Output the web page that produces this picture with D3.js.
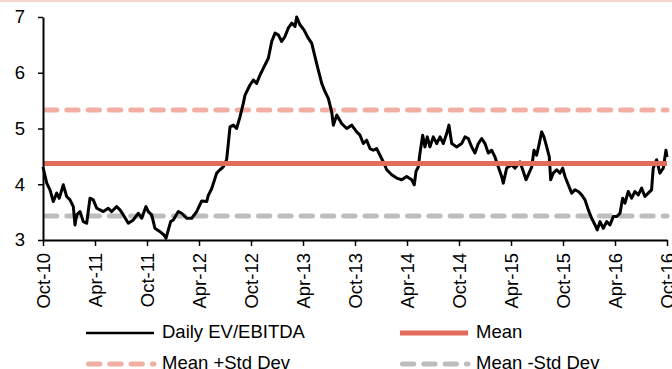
<!DOCTYPE html>
<html>
<head>
<meta charset="utf-8">
<script src="https://cdn.jsdelivr.net/npm/d3@7"></script>
<style>
  html, body { margin: 0; padding: 0; background: #fff; }
  svg { display: block; font-family: 'Liberation Sans', Arial, sans-serif; }
</style>
</head>
<body>
<svg id="chart" width="672" height="369"></svg>
<script>
// months elapsed since Oct-10
const months = [
  0, 0.43, 0.81, 1.19, 1.58, 1.88, 2.34, 2.73, 3.12, 3.5, 3.69, 3.89, 4.27, 4.65, 5.04, 5.42, 5.8, 6.2, 6.58, 6.96,
  7.53, 7.93, 8.5, 8.88, 9.27, 9.84, 10.42, 11.0, 11.39, 11.88, 12.15, 12.54, 12.92, 13.5, 13.96, 14.19, 14.46, 14.73, 15.03, 15.61,
  16.0, 16.58, 17.16, 17.73, 18.31, 18.89, 19.07, 19.46, 20.04, 20.42, 20.8, 21.19, 21.38, 21.58, 21.96, 22.34, 22.73, 23.11, 23.31, 23.88,
  24.27, 24.65, 25.04, 25.42, 26.0, 26.39, 26.77, 27.15, 27.54, 27.92, 28.3, 28.7, 29.08, 29.27, 29.65, 30.11, 30.61, 31.0, 31.38, 31.76,
  32.16, 32.54, 32.92, 33.31, 33.5, 33.89, 34.46, 35.04, 35.62, 36.19, 36.58, 36.96, 37.35, 37.73, 38.11, 38.5, 38.88, 39.27, 39.66, 40.23,
  40.81, 41.39, 41.96, 42.54, 42.84, 43.04, 43.3, 43.5, 43.81, 44.07, 44.34, 44.65, 45.03, 45.43, 45.81, 46.19, 46.58, 46.84, 47.16, 47.73,
  48.31, 48.69, 49.07, 49.46, 49.84, 50.23, 50.62, 51.0, 51.38, 51.77, 52.15, 52.54, 52.92, 53.11, 53.5, 54.08, 54.46, 55.04, 55.42, 55.73,
  55.99, 56.39, 56.65, 56.96, 57.26, 57.54, 57.8, 58.12, 58.42, 58.58, 58.88, 59.27, 59.65, 59.96, 60.23, 60.61, 61.0, 61.38, 61.77, 62.15,
  62.54, 62.92, 63.31, 63.69, 63.95, 64.27, 64.65, 65.04, 65.42, 65.8, 66.19, 66.58, 66.88, 67.15, 67.53, 67.92, 68.3, 68.69, 69.07, 69.45,
  69.84, 70.22, 70.41, 70.8, 71.18, 71.57, 71.88, 72.0
];
const evEbitda = [
  4.31, 4.02, 3.90, 3.69, 3.84, 3.75, 3.99, 3.78, 3.72, 3.60, 3.27, 3.45, 3.51, 3.33, 3.30, 3.75, 3.72, 3.57, 3.54, 3.51,
  3.57, 3.51, 3.60, 3.54, 3.45, 3.30, 3.36, 3.48, 3.39, 3.60, 3.51, 3.45, 3.21, 3.15, 3.09, 3.03, 3.18, 3.33, 3.36, 3.51,
  3.48, 3.39, 3.39, 3.51, 3.70, 3.69, 3.80, 3.92, 4.20, 4.26, 4.31, 4.44, 4.73, 5.03, 5.06, 5.00, 5.21, 5.45, 5.60, 5.78,
  5.87, 5.81, 5.96, 6.08, 6.26, 6.56, 6.71, 6.68, 6.56, 6.65, 6.80, 6.89, 6.83, 7.00, 6.86, 6.77, 6.62, 6.53, 6.29, 6.05,
  5.81, 5.66, 5.54, 5.30, 5.06, 5.24, 5.09, 5.00, 5.06, 4.94, 4.88, 4.73, 4.79, 4.64, 4.61, 4.64, 4.52, 4.40, 4.26, 4.17,
  4.11, 4.08, 4.14, 4.08, 3.99, 4.23, 4.31, 4.56, 4.88, 4.67, 4.85, 4.67, 4.85, 4.73, 4.85, 4.73, 4.91, 5.06, 4.73, 4.67,
  4.73, 4.85, 4.82, 4.67, 4.56, 4.73, 4.82, 4.73, 4.56, 4.61, 4.49, 4.31, 4.14, 4.02, 4.29, 4.35, 4.29, 4.40, 4.23, 4.08,
  4.17, 4.31, 4.61, 4.52, 4.73, 4.94, 4.85, 4.67, 4.49, 4.08, 4.20, 4.26, 4.20, 4.29, 4.14, 3.99, 3.84, 3.90, 3.87, 3.81,
  3.72, 3.54, 3.39, 3.27, 3.18, 3.33, 3.21, 3.33, 3.27, 3.42, 3.42, 3.48, 3.75, 3.66, 3.87, 3.75, 3.87, 3.81, 3.93, 3.78,
  3.84, 3.90, 4.29, 4.44, 4.20, 4.29, 4.61, 4.49
];
const meanValue = 4.37;
const meanPlusSd = 5.33;
const meanMinusSd = 3.43;

const xTickMonths = [0, 6, 12, 18, 24, 30, 36, 42, 48, 54, 60, 66, 72];
const xTickLabels = ['Oct-10', 'Apr-11', 'Oct-11', 'Apr-12', 'Oct-12', 'Apr-13', 'Oct-13',
                     'Apr-14', 'Oct-14', 'Apr-15', 'Oct-15', 'Apr-16', 'Oct-16'];
const yTicks = [3, 4, 5, 6, 7];

const seriesNames = ['Daily EV/EBITDA', 'Mean', 'Mean +Std Dev', 'Mean -Std Dev'];

const svg = d3.select('#chart');
const W = 672;
const margin = { top: 17, right: 5, bottom: 129, left: 43 };
const width = W - margin.left - margin.right;
const chartHeight = 369 - margin.top - margin.bottom;
const fontSize = '18.5px';

const colors = { line: '#000', mean: '#e26b59', plus: '#f0afa2', minus: '#bdbdbd' };
const dash = '11.3 10';

// thin pink strip along the top edge
svg.append('rect')
    .attr('x', 0).attr('y', 0)
    .attr('width', W).attr('height', 2)
    .attr('fill', '#f7d6d0');

const g = svg.append('g').attr('transform', `translate(${margin.left},${margin.top})`);

const x = d3.scaleLinear().domain([0, 72]).range([0, width]);
const y = d3.scaleLinear().domain([3, 7]).range([chartHeight, 0]);

// Reference lines
const refs = [
    { v: meanMinusSd, color: colors.minus, dash: dash },
    { v: meanPlusSd, color: colors.plus, dash: dash },
];
refs.forEach(r => {
    g.append('line')
        .attr('x1', x(0)).attr('x2', x(72))
        .attr('y1', y(r.v)).attr('y2', y(r.v))
        .attr('stroke', r.color)
        .attr('stroke-width', 5)
        .attr('stroke-linecap', 'round')
        .attr('stroke-dasharray', r.dash)
        .attr('stroke-dashoffset', -2.5);
});

// Series line
const data = months.map((m, i) => ({ m, v: evEbitda[i] }));
const line = d3.line()
    .x(d => x(d.m))
    .y(d => y(d.v))
    .curve(d3.curveLinear);

g.append('path')
    .datum(data)
    .attr('fill', 'none')
    .attr('stroke', colors.line)
    .attr('stroke-width', 3)
    .attr('stroke-linejoin', 'round')
    .attr('d', line);

// Mean (drawn on top)
g.append('line')
    .attr('x1', x(0)).attr('x2', x(72))
    .attr('y1', y(meanValue)).attr('y2', y(meanValue))
    .attr('stroke', colors.mean)
    .attr('stroke-width', 5);

// Y-axis
const yAxis = g.append('g')
    .call(d3.axisLeft(y).tickValues(yTicks).tickSize(5).tickSizeOuter(0).tickPadding(13).tickFormat(d3.format('d')));
yAxis.select('.domain').attr('stroke', '#000').attr('stroke-width', 2);
yAxis.selectAll('.tick line').attr('stroke', '#000').attr('stroke-width', 1.5);
yAxis.selectAll('text').attr('font-size', fontSize).attr('fill', '#000').attr('font-family', null);

// X-axis
const xAxis = g.append('g')
    .attr('transform', `translate(0,${chartHeight})`)
    .call(d3.axisBottom(x).tickValues(xTickMonths).tickSize(6).tickSizeOuter(0)
        .tickFormat((d, i) => xTickLabels[i]));
xAxis.select('.domain').attr('stroke', '#000').attr('stroke-width', 2);
xAxis.selectAll('.tick line').attr('stroke', '#000').attr('stroke-width', 1.5);
xAxis.selectAll('text')
    .attr('font-size', fontSize)
    .attr('fill', '#000')
    .attr('font-family', null)
    .attr('transform', 'rotate(-90)')
    .attr('x', -13)
    .attr('y', 0)
    .attr('dy', '0.35em')
    .style('text-anchor', 'end');

// Legend
const legendItems = [
    { name: seriesNames[0], color: colors.line, width: 2.6, dash: null, col: 0, row: 0 },
    { name: seriesNames[1], color: colors.mean, width: 5, dash: null, col: 1, row: 0 },
    { name: seriesNames[2], color: colors.plus, width: 5, dash: dash, col: 0, row: 1 },
    { name: seriesNames[3], color: colors.minus, width: 5, dash: dash, col: 1, row: 1 },
];
const colX = [86, 400];
const rowY = [333, 364];

const legend = svg.append('g');
legendItems.forEach(it => {
    const lx = colX[it.col];
    const ly = rowY[it.row];
    legend.append('line')
        .attr('x1', lx + (it.dash ? 2.5 : 0)).attr('x2', lx + 68)
        .attr('y1', ly).attr('y2', ly)
        .attr('stroke', it.color)
        .attr('stroke-width', it.width)
        .attr('stroke-linecap', it.dash ? 'round' : 'butt')
        .attr('stroke-dasharray', it.dash);
    legend.append('text')
        .attr('x', lx + 76)
        .attr('y', ly + 5)
        .attr('font-size', fontSize)
        .attr('fill', '#000')
        .text(it.name);
});
</script>
</body>
</html>
